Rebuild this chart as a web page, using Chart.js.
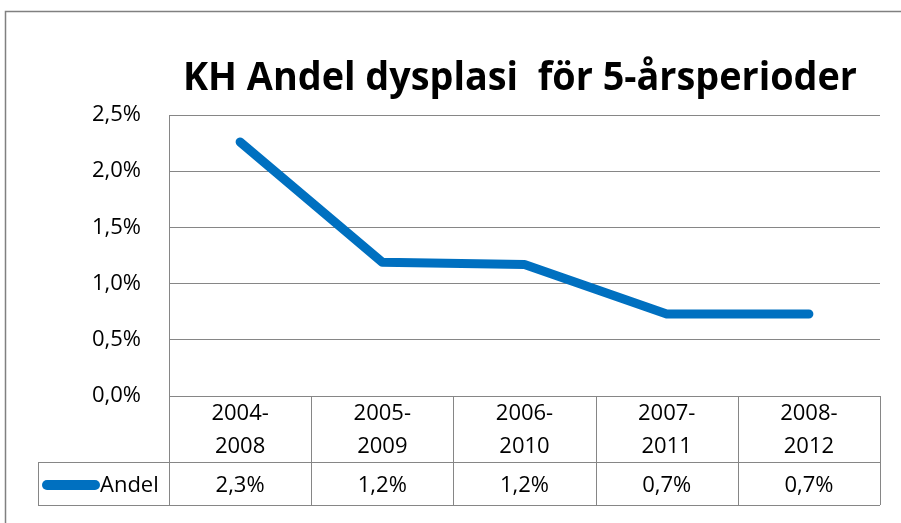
<!DOCTYPE html>
<html>
<head>
<meta charset="utf-8">
<script src="https://cdn.jsdelivr.net/npm/chart.js@4.4.1/dist/chart.umd.min.js"></script>
<style>
  html, body { margin: 0; padding: 0; background: #fff; }
  #wrap { width: 901px; height: 523px; }
</style>
</head>
<body>
<div id="wrap"><canvas id="chart" width="901" height="523"></canvas></div>
<script>
// Data
const titleText = 'KH Andel dysplasi  för 5-årsperioder';
const periods = ['2004-2008', '2005-2009', '2006-2010', '2007-2011', '2008-2012'];
const andel = [2.26, 1.19, 1.17, 0.73, 0.73]; // percent
const seriesName = 'Andel';
const yTicks = [0, 0.5, 1, 1.5, 2, 2.5];

const blue = '#0070C0';
const gridGray = '#868686';
const fontName = "'Open Sans', 'Liberation Sans', sans-serif";

function pct(v, d) {
    return v.toFixed(d).replace('.', ',') + '%';
}

// Draws title, outer frame and the data table under the plot
const tablePlugin = {
    id: 'tablePlugin',
    afterDraw(chart) {
        const ctx = chart.ctx;
        const area = chart.chartArea;
        const xs = chart.scales.x;
        const step = xs.getPixelForValue(1) - xs.getPixelForValue(0);
        const headTop = area.bottom;
        const headBottom = 462;
        const rowBottom = 505;
        const legendLeft = 38;

        ctx.save();
        // outer frame
        ctx.strokeStyle = '#808080';
        ctx.lineWidth = 1.5;
        ctx.beginPath();
        ctx.moveTo(5.5, 523);
        ctx.lineTo(5.5, 11.5);
        ctx.lineTo(901, 11.5);
        ctx.stroke();

        // title
        ctx.fillStyle = '#000';
        ctx.font = 'bold 39px ' + fontName;
        ctx.textAlign = 'center';
        ctx.textBaseline = 'alphabetic';
        ctx.fillText(titleText, 520, 90, 674);

        // table grid
        ctx.strokeStyle = gridGray;
        ctx.lineWidth = 1;
        ctx.beginPath();
        ctx.moveTo(legendLeft, headBottom + 0.5);
        ctx.lineTo(area.right, headBottom + 0.5);
        ctx.moveTo(legendLeft, rowBottom + 0.5);
        ctx.lineTo(area.right, rowBottom + 0.5);
        ctx.moveTo(legendLeft + 0.5, headBottom);
        ctx.lineTo(legendLeft + 0.5, rowBottom);
        for (let i = 0; i <= periods.length; i++) {
            const x = Math.round(xs.getPixelForValue(i) - step / 2) + 0.5;
            ctx.moveTo(x, headTop);
            ctx.lineTo(x, rowBottom);
        }
        ctx.stroke();

        // header + values
        ctx.fillStyle = '#000';
        ctx.font = '22px ' + fontName;
        ctx.textBaseline = 'middle';
        ctx.textAlign = 'center';
        periods.forEach((p, i) => {
            const x = xs.getPixelForValue(i);
            const parts = p.split('-');
            ctx.fillText(parts[0] + '-', x, 414);
            ctx.fillText(parts[1], x, 447);
            ctx.fillText(pct(andel[i], 1), x, 486);
        });

        // legend key in the table
        ctx.strokeStyle = blue;
        ctx.lineWidth = 10;
        ctx.lineCap = 'round';
        ctx.beginPath();
        ctx.moveTo(47, 485);
        ctx.lineTo(95, 485);
        ctx.stroke();
        ctx.textAlign = 'left';
        ctx.fillText(seriesName, 100, 486);
        ctx.restore();
    }
};

new Chart(document.getElementById('chart'), {
    type: 'line',
    data: {
        labels: periods,
        datasets: [{
            label: seriesName,
            data: andel,
            borderColor: blue,
            backgroundColor: blue,
            borderWidth: 9,
            borderCapStyle: 'round',
            borderJoinStyle: 'round',
            pointRadius: 0,
            tension: 0
        }]
    },
    options: {
        responsive: false,
        animation: false,
        layout: { padding: { left: 0, top: 115, right: 21, bottom: 127 } },
        plugins: {
            legend: { display: false },
            title: { display: false },
            tooltip: { enabled: false }
        },
        scales: {
            x: {
                display: false,
                offset: true
            },
            y: {
                min: 0,
                max: 2.5,
                afterFit: s => { s.width = 169; },
                afterBuildTicks: s => { s.ticks = yTicks.map(v => ({ value: v })); },
                grid: { color: gridGray, lineWidth: 1, drawTicks: false },
                border: { color: gridGray, width: 1 },
                ticks: {
                    color: '#000',
                    padding: 28,
                    font: { family: fontName, size: 22 },
                    callback: v => pct(v, 1)
                }
            }
        }
    },
    plugins: [tablePlugin]
});
</script>
</body>
</html>
